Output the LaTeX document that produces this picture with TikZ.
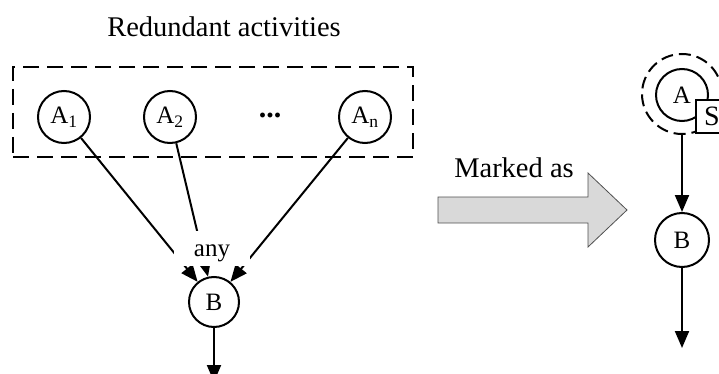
\documentclass[tikz,border=0pt]{standalone}
\usepackage{fontspec}
\setmainfont{Liberation Serif}
\usetikzlibrary{arrows.meta}
\definecolor{arrowfill}{HTML}{D9D9D9}
\definecolor{arrowline}{HTML}{505050}
\tikzset{
  act/.style={circle, draw, line width=2pt, minimum size=52pt, inner sep=0pt,
              font=\fontsize{25}{25}\selectfont},
  flow/.style={line width=2pt, -{Triangle[length=17pt,width=14pt]}},
  bigtext/.style={font=\fontsize{28.5}{30}\selectfont, inner sep=0pt},
}
\begin{document}
\begin{tikzpicture}[x=1pt,y=-1pt]
  \useasboundingbox (0,0) rectangle (719,374);
  \clip (0,0) rectangle (719,374);

  % left part: group of redundant activities
  \node[bigtext, anchor=base] (title) at (224,36.5) {Redundant activities};
  \node[draw, line width=2pt, dash pattern=on 16pt off 8pt,
        minimum width=400pt, minimum height=90pt, inner sep=0pt] (group) at (213,112) {};
  \node[act] (A1) at (64,117) {A\textsubscript{1}};
  \node[act] (A2) at (170,117) {A\textsubscript{2}};
  \node[act] (An) at (365,117) {A\textsubscript{n}};
  \node[anchor=base, font=\fontsize{30}{30}\selectfont\bfseries, inner sep=0pt] (dots) at (270,118) {...};

  \node[act, minimum size=50pt] (B) at (214,302) {B};
  \coordinate (Bout) at (214,382);

  \draw[flow] (A1) -- (B);
  \draw[flow] (A2) -- (B);
  \draw[flow] (An) -- (B);
  \draw[flow] (B) -- (Bout);

  % label on the incoming branches, masking them
  \node[fill=white, font=\fontsize{25}{25}\selectfont, inner xsep=20pt, inner ysep=6pt,
        text height=19pt, text depth=4pt] (any) at (212,248.5) {any};

  % transformation arrow
  \draw[fill=arrowfill, draw=arrowline, line width=0.8pt]
    (438,197) -- (588,197) -- (588,173) -- (627,210) -- (588,247) -- (588,223) -- (438,223) -- cycle;
  \node[bigtext, anchor=base] (marked) at (514,177) {Marked as};

  % right part: marked activity
  \node[act] (A) at (682,95) {A};
  \node[circle, draw, line width=2pt, dash pattern=on 12pt off 6pt,
        minimum size=80pt, inner sep=0pt] (Aring) at (682,94) {};
  \node[draw, fill=white, line width=2pt, minimum size=33pt, inner sep=0pt,
        font=\fontsize{28}{28}\selectfont] (S) at (712,116.5) {S};
  \node[act, minimum size=54pt] (B2) at (682,240) {B};
  \coordinate (B2out) at (682,348);

  \draw[flow] (Aring) -- (B2);
  \draw[flow] (B2) -- (B2out);
\end{tikzpicture}
\end{document}
